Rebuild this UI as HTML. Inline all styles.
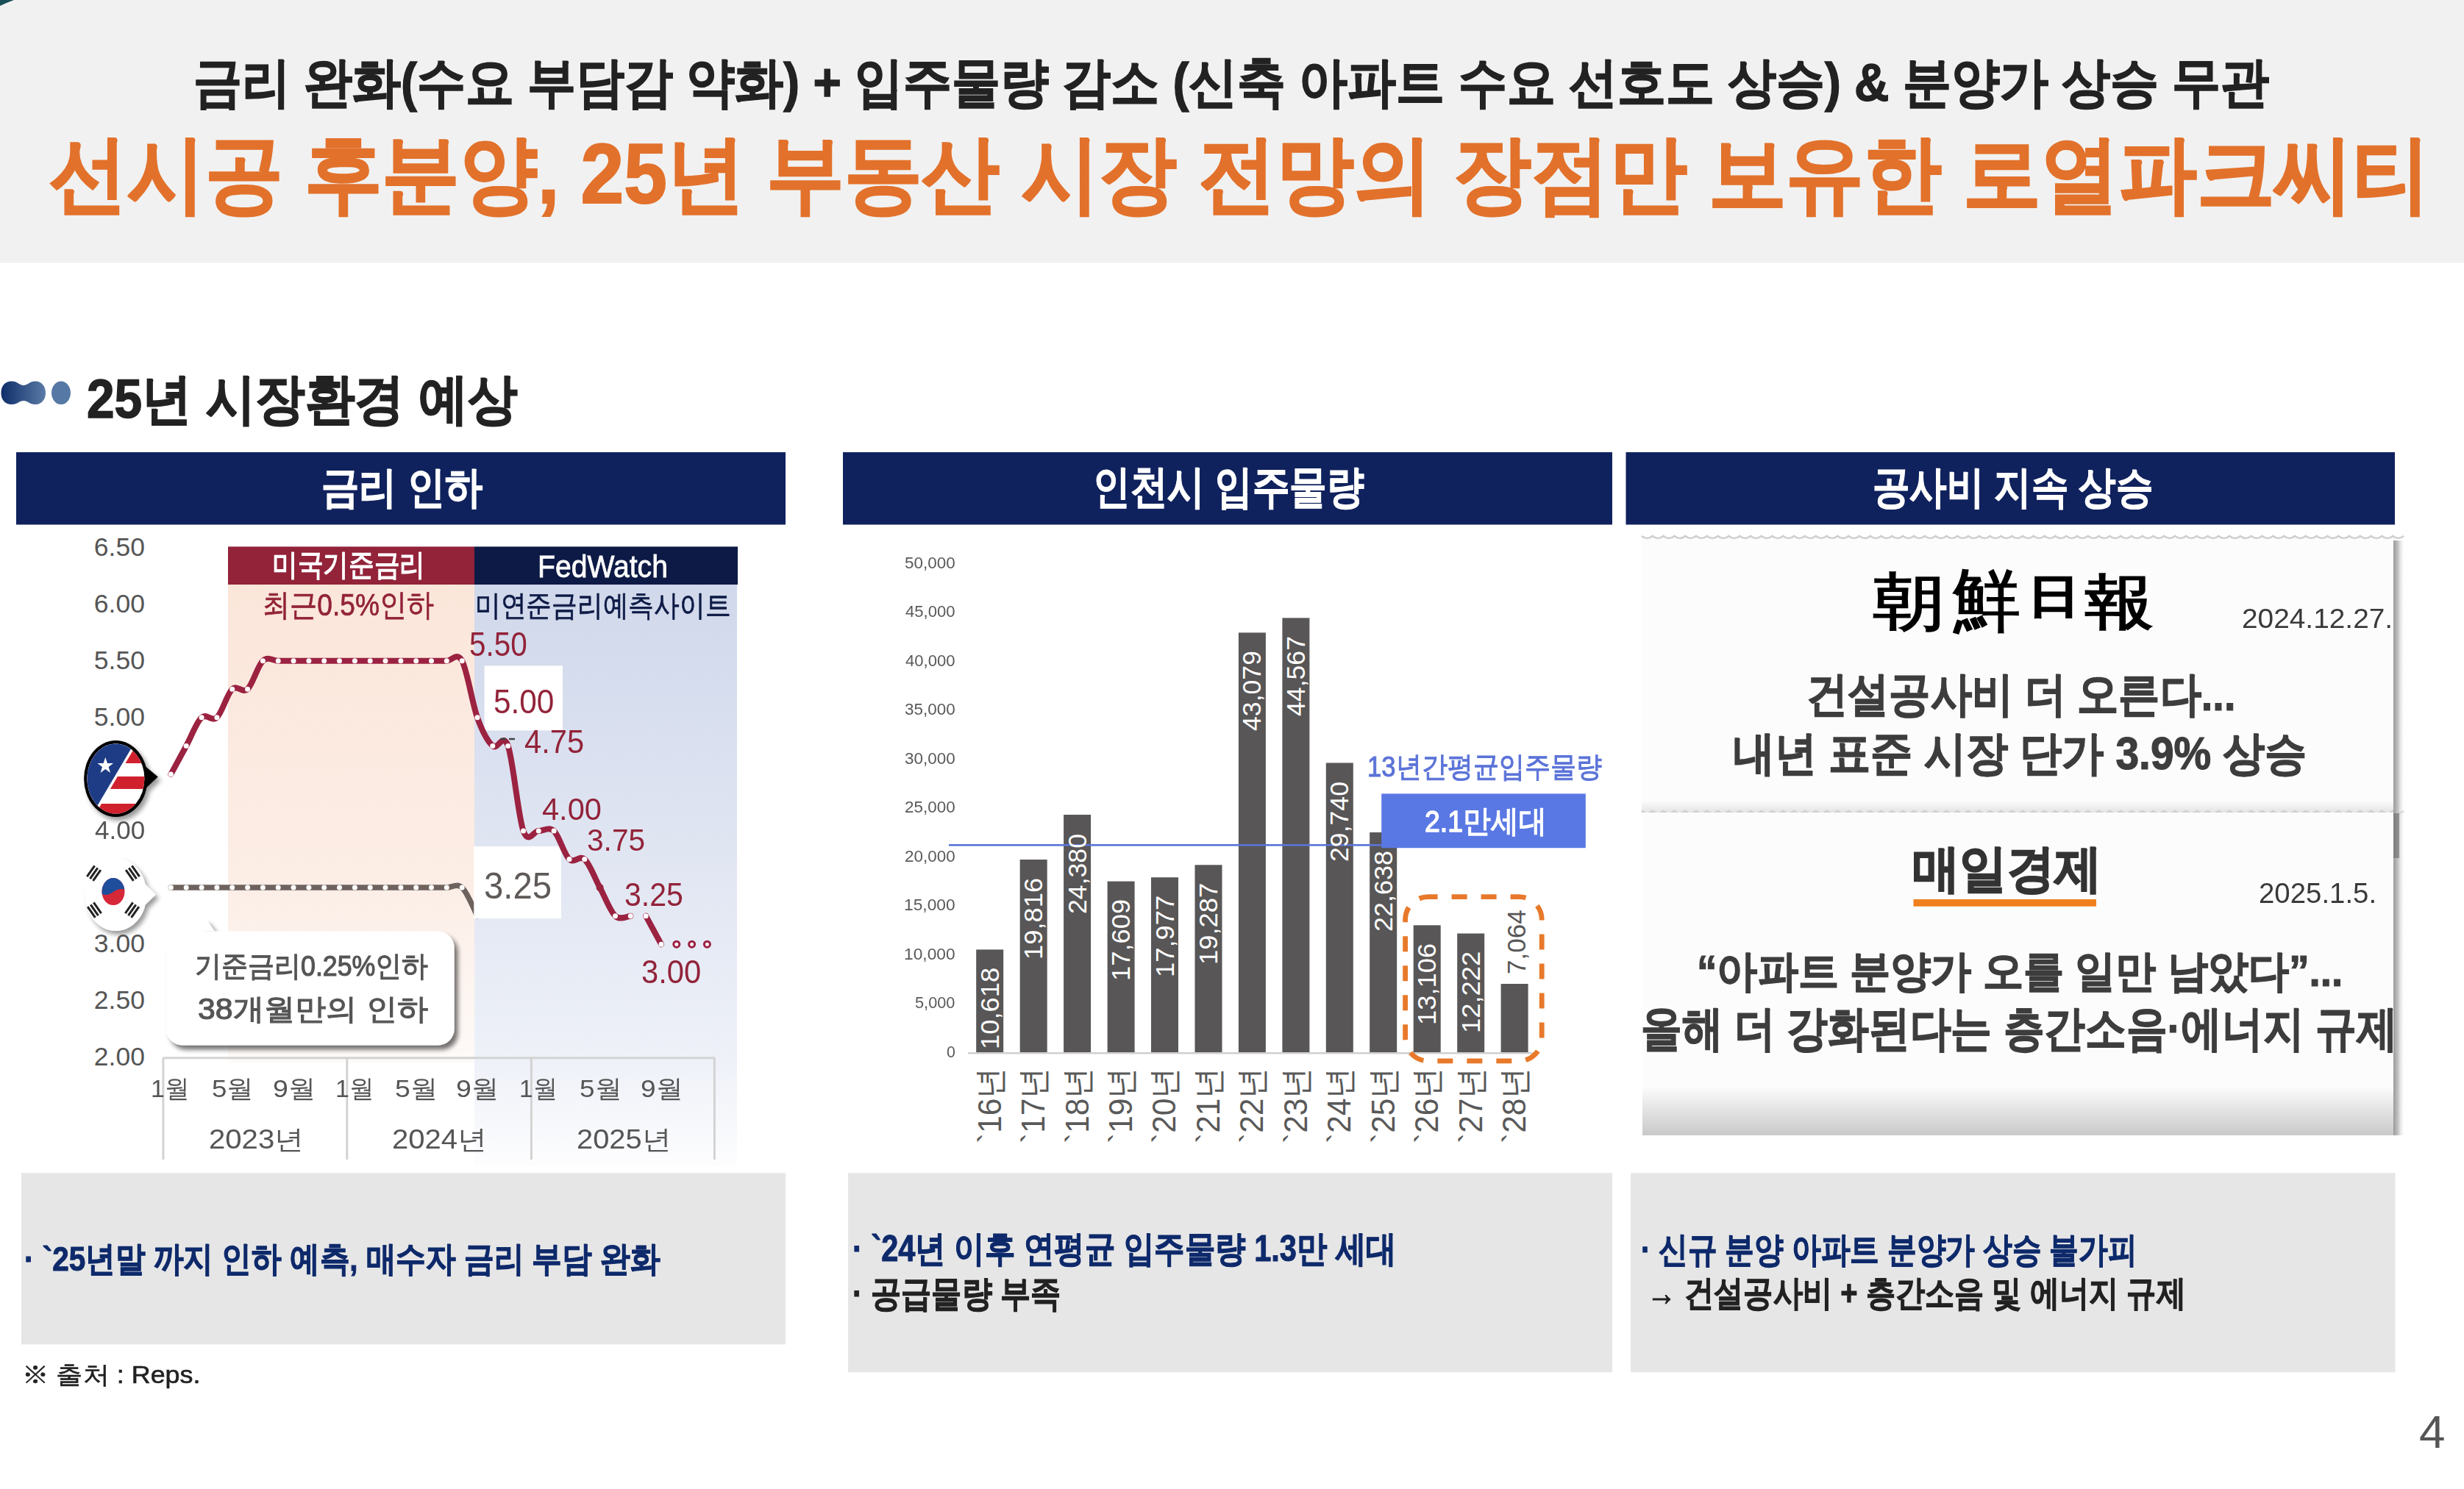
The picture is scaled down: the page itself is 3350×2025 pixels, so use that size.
<!DOCTYPE html>
<html><head><meta charset="utf-8"><title>25년 시장환경 예상</title>
<style>
html,body{margin:0;padding:0;background:#ffffff;}
body{width:3350px;height:2025px;position:relative;overflow:hidden;font-family:'Liberation Sans',sans-serif;}
.t{position:absolute;white-space:pre;line-height:1;transform-origin:0 0;font-family:'Liberation Sans',sans-serif;}
svg.bg{position:absolute;left:0;top:0;}
</style></head><body>
<svg class="bg" width="3350" height="2025" viewBox="0 0 3350 2025">
<rect x="0" y="0" width="3350" height="357.5" fill="#f1f1f1"/>
<path d="M0 0 L19 0 Q8 4 0 8 Z" fill="#1b4f58"/>
<defs><linearGradient id="gIcon" x1="0" x2="1" y1="0" y2="0"><stop offset="0" stop-color="#0f2d6a"/><stop offset="1" stop-color="#5a7ba6"/></linearGradient></defs>
<path d="M16 518.6 C6 518.6 1.5 526 1.5 534.3 C1.5 543 6 550 16 550 C24 550 26 545 32 545 C38 545 40 550 48 550 C57 550 62 543 62 534.3 C62 526 57 518.6 48 518.6 C40 518.6 38 524 32 524 C26 524 24 518.6 16 518.6 Z" fill="url(#gIcon)"/>
<ellipse cx="83" cy="534.3" rx="13" ry="15.7" fill="#5678a4"/>
<rect x="22" y="615" width="1046" height="98.5" fill="#10225d"/>
<rect x="1146" y="615" width="1046" height="98.5" fill="#10225d"/>
<rect x="2210.5" y="615" width="1045.5" height="98.5" fill="#10225d"/>
<rect x="29" y="1595.3" width="1039" height="233" fill="#e6e6e6"/>
<rect x="1153" y="1595.3" width="1039" height="271" fill="#e6e6e6"/>
<rect x="2217" y="1595.3" width="1039.5" height="271" fill="#e6e6e6"/>
<defs>
<linearGradient id="gPeach" x1="0" x2="0" y1="0" y2="1"><stop offset="0" stop-color="#fbe6da"/><stop offset="0.6" stop-color="#fcede5"/><stop offset="1" stop-color="#fefaf8"/></linearGradient>
<linearGradient id="gBlue" x1="0" x2="0" y1="0" y2="1"><stop offset="0" stop-color="#d0d8eb"/><stop offset="0.45" stop-color="#e0e5f2"/><stop offset="0.82" stop-color="#eef1f8"/><stop offset="1" stop-color="#fdfdfe"/></linearGradient>
<filter id="fSh" x="-20%" y="-20%" width="150%" height="150%"><feGaussianBlur in="SourceAlpha" stdDeviation="3"/><feOffset dx="5" dy="6"/><feComponentTransfer><feFuncA type="linear" slope="0.55"/></feComponentTransfer><feMerge><feMergeNode/><feMergeNode in="SourceGraphic"/></feMerge></filter>
<filter id="fSh2" x="-30%" y="-30%" width="160%" height="160%"><feGaussianBlur in="SourceAlpha" stdDeviation="3"/><feOffset dx="4" dy="5"/><feComponentTransfer><feFuncA type="linear" slope="0.4"/></feComponentTransfer><feMerge><feMergeNode/><feMergeNode in="SourceGraphic"/></feMerge></filter>
</defs>
<rect x="310" y="795" width="335" height="650" fill="url(#gPeach)"/>
<rect x="645" y="795" width="357" height="790" fill="url(#gBlue)"/>
<rect x="310" y="743.4" width="335" height="51.6" fill="#922339"/>
<rect x="645" y="743.4" width="358" height="51.6" fill="#0d1a45"/>
<g stroke="#d3d3d3" stroke-width="3" fill="none"><path d="M221.6 1438.7 H972"/><path d="M221.9 1438.7 V1577"/><path d="M471.8 1438.7 V1577"/><path d="M722.4 1438.7 V1577"/><path d="M971.4 1438.7 V1577"/></g>
<path d="M232.4 1207.1 C235.9 1207.1 246.3 1207.1 253.2 1207.1 C260.2 1207.1 267.1 1207.1 274.1 1207.1 C281.0 1207.1 287.9 1207.1 294.9 1207.1 C301.8 1207.1 308.8 1207.1 315.7 1207.1 C322.7 1207.1 329.6 1207.1 336.6 1207.1 C343.5 1207.1 350.4 1207.1 357.4 1207.1 C364.3 1207.1 371.3 1207.1 378.2 1207.1 C385.2 1207.1 392.1 1207.1 399.0 1207.1 C406.0 1207.1 412.9 1207.1 419.9 1207.1 C426.8 1207.1 433.8 1207.1 440.7 1207.1 C447.6 1207.1 454.6 1207.1 461.5 1207.1 C468.5 1207.1 475.4 1207.1 482.4 1207.1 C489.3 1207.1 496.2 1207.1 503.2 1207.1 C510.1 1207.1 517.1 1207.1 524.0 1207.1 C531.0 1207.1 537.9 1207.1 544.9 1207.1 C551.8 1207.1 558.7 1207.1 565.7 1207.1 C572.6 1207.1 579.6 1207.1 586.5 1207.1 C593.5 1207.1 600.4 1207.1 607.3 1207.1 C614.3 1207.1 621.2 1200.7 628.2 1207.1 C635.1 1213.5 645.5 1239.2 649.0 1245.7" fill="none" stroke="#6e625e" stroke-width="7.5" stroke-linejoin="round" stroke-linecap="round"/>
<circle cx="232.4" cy="1207.1" r="3.5" fill="#fff"/>
<circle cx="253.2" cy="1207.1" r="3.5" fill="#fff"/>
<circle cx="274.1" cy="1207.1" r="3.5" fill="#fff"/>
<circle cx="294.9" cy="1207.1" r="3.5" fill="#fff"/>
<circle cx="315.7" cy="1207.1" r="3.5" fill="#fff"/>
<circle cx="336.6" cy="1207.1" r="3.5" fill="#fff"/>
<circle cx="357.4" cy="1207.1" r="3.5" fill="#fff"/>
<circle cx="378.2" cy="1207.1" r="3.5" fill="#fff"/>
<circle cx="399.0" cy="1207.1" r="3.5" fill="#fff"/>
<circle cx="419.9" cy="1207.1" r="3.5" fill="#fff"/>
<circle cx="440.7" cy="1207.1" r="3.5" fill="#fff"/>
<circle cx="461.5" cy="1207.1" r="3.5" fill="#fff"/>
<circle cx="482.4" cy="1207.1" r="3.5" fill="#fff"/>
<circle cx="503.2" cy="1207.1" r="3.5" fill="#fff"/>
<circle cx="524.0" cy="1207.1" r="3.5" fill="#fff"/>
<circle cx="544.9" cy="1207.1" r="3.5" fill="#fff"/>
<circle cx="565.7" cy="1207.1" r="3.5" fill="#fff"/>
<circle cx="586.5" cy="1207.1" r="3.5" fill="#fff"/>
<circle cx="607.3" cy="1207.1" r="3.5" fill="#fff"/>
<circle cx="628.2" cy="1207.1" r="3.5" fill="#fff"/>
<rect x="658.6" y="905.4" width="106.4" height="88" fill="#ffffff"/>
<rect x="644.3" y="1151" width="118.7" height="98.3" fill="#ffffff"/>
<path d="M232.4 1052.9 C235.9 1046.5 246.3 1027.2 253.2 1014.4 C260.2 1001.5 267.1 982.2 274.1 975.8 C281.0 969.4 287.9 982.2 294.9 975.8 C301.8 969.4 308.8 943.7 315.7 937.2 C322.7 930.8 329.6 943.7 336.6 937.2 C343.5 930.8 350.4 905.1 357.4 898.7 C364.3 892.3 371.3 898.7 378.2 898.7 C385.2 898.7 392.1 898.7 399.0 898.7 C406.0 898.7 412.9 898.7 419.9 898.7 C426.8 898.7 433.8 898.7 440.7 898.7 C447.6 898.7 454.6 898.7 461.5 898.7 C468.5 898.7 475.4 898.7 482.4 898.7 C489.3 898.7 496.2 898.7 503.2 898.7 C510.1 898.7 517.1 898.7 524.0 898.7 C531.0 898.7 537.9 898.7 544.9 898.7 C551.8 898.7 558.7 898.7 565.7 898.7 C572.6 898.7 579.6 898.7 586.5 898.7 C593.5 898.7 600.4 898.7 607.3 898.7 C614.3 898.7 621.2 885.9 628.2 898.7 C635.1 911.6 642.1 956.5 649.0 975.8 C655.9 995.1 662.9 1007.9 669.8 1014.4 C676.8 1020.8 683.7 995.1 690.7 1014.4 C697.6 1033.6 704.5 1110.7 711.5 1130.0 C718.4 1149.3 725.4 1130.0 732.3 1130.0 C739.3 1130.0 746.2 1123.6 753.1 1130.0 C760.1 1136.4 767.0 1162.1 774.0 1168.5 C780.9 1175.0 787.9 1162.1 794.8 1168.5 C801.8 1175.0 808.7 1194.2 815.6 1207.1 C822.6 1219.9 829.5 1239.2 836.5 1245.7 C843.4 1252.1 853.8 1245.7 857.3 1245.7" fill="none" stroke="#9b2241" stroke-width="8" stroke-linejoin="round" stroke-linecap="round"/>
<polyline points="878.1,1245.7 899.0,1284.2" fill="none" stroke="#9b2241" stroke-width="8" stroke-linecap="round"/>
<circle cx="232.4" cy="1052.9" r="3.5" fill="#fff"/>
<circle cx="253.2" cy="1014.4" r="3.5" fill="#fff"/>
<circle cx="274.1" cy="975.8" r="3.5" fill="#fff"/>
<circle cx="294.9" cy="975.8" r="3.5" fill="#fff"/>
<circle cx="315.7" cy="937.2" r="3.5" fill="#fff"/>
<circle cx="336.6" cy="937.2" r="3.5" fill="#fff"/>
<circle cx="357.4" cy="898.7" r="3.5" fill="#fff"/>
<circle cx="378.2" cy="898.7" r="3.5" fill="#fff"/>
<circle cx="399.0" cy="898.7" r="3.5" fill="#fff"/>
<circle cx="419.9" cy="898.7" r="3.5" fill="#fff"/>
<circle cx="440.7" cy="898.7" r="3.5" fill="#fff"/>
<circle cx="461.5" cy="898.7" r="3.5" fill="#fff"/>
<circle cx="482.4" cy="898.7" r="3.5" fill="#fff"/>
<circle cx="503.2" cy="898.7" r="3.5" fill="#fff"/>
<circle cx="524.0" cy="898.7" r="3.5" fill="#fff"/>
<circle cx="544.9" cy="898.7" r="3.5" fill="#fff"/>
<circle cx="565.7" cy="898.7" r="3.5" fill="#fff"/>
<circle cx="586.5" cy="898.7" r="3.5" fill="#fff"/>
<circle cx="607.3" cy="898.7" r="3.5" fill="#fff"/>
<circle cx="628.2" cy="898.7" r="3.5" fill="#fff"/>
<circle cx="649.0" cy="975.8" r="3.5" fill="#fff"/>
<circle cx="669.8" cy="1014.4" r="3.5" fill="#fff"/>
<circle cx="690.7" cy="1014.4" r="3.5" fill="#fff"/>
<circle cx="711.5" cy="1130.0" r="3.5" fill="#fff"/>
<circle cx="732.3" cy="1130.0" r="3.5" fill="#fff"/>
<circle cx="753.1" cy="1130.0" r="3.5" fill="#fff"/>
<circle cx="774.0" cy="1168.5" r="3.5" fill="#fff"/>
<circle cx="794.8" cy="1168.5" r="3.5" fill="#fff"/>
<circle cx="815.6" cy="1207.1" r="3.5" fill="#fff"/>
<circle cx="836.5" cy="1245.7" r="3.5" fill="#fff"/>
<circle cx="857.3" cy="1245.7" r="3.5" fill="#fff"/>
<circle cx="815.6" cy="1207.1" r="5" fill="#9b2241"/>
<circle cx="878.1" cy="1245.7" r="3.5" fill="#fff"/>
<circle cx="899.0" cy="1284.2" r="3.5" fill="#fff"/>
<circle cx="919.8" cy="1284.2" r="4" fill="#fff" stroke="#9b2241" stroke-width="3"/>
<circle cx="940.6" cy="1284.2" r="4" fill="#fff" stroke="#9b2241" stroke-width="3"/>
<circle cx="961.4" cy="1284.2" r="4" fill="#fff" stroke="#9b2241" stroke-width="3"/>
<path d="M680 1005 h8 M692 1005 h8" stroke="#444" stroke-width="2.5"/>
<g filter="url(#fSh)"><path d="M270 1266.6 L279 1249 L292 1266.6 Z" fill="#fff"/><rect x="226" y="1266.6" width="391.6" height="154.8" rx="22" fill="#ffffff"/></g>
<g filter="url(#fSh2)">
<path d="M195 1040 L214.8 1056.5 L195 1075 Z" fill="#000"/>
<ellipse cx="157.4" cy="1059" rx="43.3" ry="52" fill="#000"/>
</g>
<clipPath id="cpUS"><ellipse cx="157.4" cy="1059" rx="39" ry="47.5"/></clipPath>
<g clip-path="url(#cpUS)">
<rect x="110" y="1005" width="100" height="110" fill="#fff"/>
<rect x="110" y="1021" width="100" height="17" fill="#d0202e"/>
<rect x="110" y="1056" width="100" height="17" fill="#d0202e"/>
<rect x="110" y="1093" width="100" height="20" fill="#d0202e"/>
<path d="M110 1005 L190 1005 L128 1110 L110 1110 Z" fill="#fff"/>
<path d="M110 1005 L186 1005 L124 1110 L110 1110 Z" fill="#1e3c86"/>
</g>
<path d="M143.3 1030 L146 1038 L154 1038 L147.6 1043 L150 1051 L143.3 1046 L136.6 1051 L139 1043 L132.6 1038 L140.6 1038 Z" fill="#fff"/>
<g filter="url(#fSh2)">
<path d="M195 1200 L211.8 1216.6 L195 1233 Z" fill="#fff"/>
<ellipse cx="157.4" cy="1216.5" rx="42" ry="49.5" fill="#fff"/>
</g>
<clipPath id="cpKR"><ellipse cx="154" cy="1212.6" rx="15.5" ry="18.5"/></clipPath>
<g clip-path="url(#cpKR)"><rect x="135" y="1190" width="40" height="50" fill="#d62839"/>
<path d="M135 1190 H175 V1213 Q165 1205 154 1213 Q143 1221 135 1213 Z" fill="#1f4e9c"/></g>
<g fill="#222">
<g transform="translate(128,1188) rotate(-55)"><rect x="-9" y="-7" width="18" height="3"/><rect x="-9" y="-2" width="18" height="3"/><rect x="-9" y="3" width="18" height="3"/></g>
<g transform="translate(180,1188) rotate(55)"><rect x="-9" y="-7" width="18" height="3"/><rect x="-9" y="-2" width="18" height="3"/><rect x="-9" y="3" width="18" height="3"/></g>
<g transform="translate(128,1238) rotate(55)"><rect x="-9" y="-7" width="18" height="3"/><rect x="-9" y="-2" width="18" height="3"/><rect x="-9" y="3" width="18" height="3"/></g>
<g transform="translate(180,1238) rotate(-55)"><rect x="-9" y="-7" width="18" height="3"/><rect x="-9" y="-2" width="18" height="3"/><rect x="-9" y="3" width="18" height="3"/></g>
</g>
<rect x="1316" y="1431" width="775" height="2.5" fill="#d0d0d0"/>
<rect x="1327.2" y="1291.4" width="37" height="139.6" fill="#585656"/>
<rect x="1386.7" y="1169" width="37" height="262.0" fill="#585656"/>
<rect x="1446.1" y="1108" width="37" height="323.0" fill="#585656"/>
<rect x="1505.6" y="1198.6" width="37" height="232.4" fill="#585656"/>
<rect x="1565.0" y="1193.2" width="37" height="237.8" fill="#585656"/>
<rect x="1624.5" y="1176.3" width="37" height="254.7" fill="#585656"/>
<rect x="1683.9" y="860.4" width="37" height="570.6" fill="#585656"/>
<rect x="1743.4" y="840.4" width="37" height="590.6" fill="#585656"/>
<rect x="1802.8" y="1037.5" width="37" height="393.5" fill="#585656"/>
<rect x="1862.2" y="1132" width="37" height="299.0" fill="#585656"/>
<rect x="1921.7" y="1258.3" width="37" height="172.7" fill="#585656"/>
<rect x="1981.2" y="1269.5" width="37" height="161.5" fill="#585656"/>
<rect x="2040.6" y="1338" width="37" height="93.0" fill="#585656"/>
<rect x="1290" y="1148" width="590" height="2.6" fill="#5b73d6"/>
<rect x="1878.2" y="1079.4" width="277.6" height="73.8" fill="#5a78e4"/>
<rect x="1910.6" y="1219.6" width="185.6" height="223.3" rx="31" fill="none" stroke="#e8792b" stroke-width="6.8" stroke-dasharray="21 19" stroke-dashoffset="8"/>
<defs>
<linearGradient id="gClipB" x1="0" x2="0" y1="0" y2="1"><stop offset="0" stop-color="#fcfcfc"/><stop offset="1" stop-color="#c9c9c9"/></linearGradient>
<linearGradient id="gClipR" x1="0" x2="1" y1="0" y2="0"><stop offset="0" stop-color="#9a9a9a"/><stop offset="0.4" stop-color="#c4c4c4"/><stop offset="1" stop-color="#ffffff" stop-opacity="0"/></linearGradient>
<pattern id="pWave" x="2232" y="726" width="15" height="10" patternUnits="userSpaceOnUse"><path d="M0 3 Q7.5 9 15 3" fill="none" stroke="#c8c8c8" stroke-width="2.5"/></pattern>
</defs>
<rect x="2232" y="731" width="1022" height="374" fill="#fcfcfc"/>
<rect x="2232" y="1089" width="1022" height="15" fill="url(#gClipB)" opacity="0.45"/>
<path d="M2232 729 Q2239.4 735 2246.8 729 Q2254.2 735 2261.6 729 Q2269.0 735 2276.4 729 Q2283.8 735 2291.2 729 Q2298.6 735 2306.0 729 Q2313.4 735 2320.8 729 Q2328.2 735 2335.6 729 Q2343.0 735 2350.4 729 Q2357.8 735 2365.2 729 Q2372.6 735 2380.0 729 Q2387.4 735 2394.8 729 Q2402.2 735 2409.6 729 Q2417.0 735 2424.4 729 Q2431.8 735 2439.2 729 Q2446.6 735 2454.0 729 Q2461.4 735 2468.8 729 Q2476.2 735 2483.6 729 Q2491.0 735 2498.4 729 Q2505.8 735 2513.2 729 Q2520.6 735 2528.0 729 Q2535.4 735 2542.8 729 Q2550.2 735 2557.6 729 Q2565.0 735 2572.4 729 Q2579.8 735 2587.2 729 Q2594.6 735 2602.0 729 Q2609.4 735 2616.8 729 Q2624.2 735 2631.6 729 Q2639.0 735 2646.4 729 Q2653.8 735 2661.2 729 Q2668.6 735 2676.0 729 Q2683.4 735 2690.8 729 Q2698.2 735 2705.6 729 Q2713.0 735 2720.4 729 Q2727.8 735 2735.2 729 Q2742.6 735 2750.0 729 Q2757.4 735 2764.8 729 Q2772.2 735 2779.6 729 Q2787.0 735 2794.4 729 Q2801.8 735 2809.2 729 Q2816.6 735 2824.0 729 Q2831.4 735 2838.8 729 Q2846.2 735 2853.6 729 Q2861.0 735 2868.4 729 Q2875.8 735 2883.2 729 Q2890.6 735 2898.0 729 Q2905.4 735 2912.8 729 Q2920.2 735 2927.6 729 Q2935.0 735 2942.4 729 Q2949.8 735 2957.2 729 Q2964.6 735 2972.0 729 Q2979.4 735 2986.8 729 Q2994.2 735 3001.6 729 Q3009.0 735 3016.4 729 Q3023.8 735 3031.2 729 Q3038.6 735 3046.0 729 Q3053.4 735 3060.8 729 Q3068.2 735 3075.6 729 Q3083.0 735 3090.4 729 Q3097.8 735 3105.2 729 Q3112.6 735 3120.0 729 Q3127.4 735 3134.8 729 Q3142.2 735 3149.6 729 Q3157.0 735 3164.4 729 Q3171.8 735 3179.2 729 Q3186.6 735 3194.0 729 Q3201.4 735 3208.8 729 Q3216.2 735 3223.6 729 Q3231.0 735 3238.4 729 Q3245.8 735 3253.2 729 Q3260.6 735 3268.0 729" fill="none" stroke="#cfcfcf" stroke-width="2.6"/>
<path d="M2232 1103 Q2239.4 1109 2246.8 1103 Q2254.2 1109 2261.6 1103 Q2269.0 1109 2276.4 1103 Q2283.8 1109 2291.2 1103 Q2298.6 1109 2306.0 1103 Q2313.4 1109 2320.8 1103 Q2328.2 1109 2335.6 1103 Q2343.0 1109 2350.4 1103 Q2357.8 1109 2365.2 1103 Q2372.6 1109 2380.0 1103 Q2387.4 1109 2394.8 1103 Q2402.2 1109 2409.6 1103 Q2417.0 1109 2424.4 1103 Q2431.8 1109 2439.2 1103 Q2446.6 1109 2454.0 1103 Q2461.4 1109 2468.8 1103 Q2476.2 1109 2483.6 1103 Q2491.0 1109 2498.4 1103 Q2505.8 1109 2513.2 1103 Q2520.6 1109 2528.0 1103 Q2535.4 1109 2542.8 1103 Q2550.2 1109 2557.6 1103 Q2565.0 1109 2572.4 1103 Q2579.8 1109 2587.2 1103 Q2594.6 1109 2602.0 1103 Q2609.4 1109 2616.8 1103 Q2624.2 1109 2631.6 1103 Q2639.0 1109 2646.4 1103 Q2653.8 1109 2661.2 1103 Q2668.6 1109 2676.0 1103 Q2683.4 1109 2690.8 1103 Q2698.2 1109 2705.6 1103 Q2713.0 1109 2720.4 1103 Q2727.8 1109 2735.2 1103 Q2742.6 1109 2750.0 1103 Q2757.4 1109 2764.8 1103 Q2772.2 1109 2779.6 1103 Q2787.0 1109 2794.4 1103 Q2801.8 1109 2809.2 1103 Q2816.6 1109 2824.0 1103 Q2831.4 1109 2838.8 1103 Q2846.2 1109 2853.6 1103 Q2861.0 1109 2868.4 1103 Q2875.8 1109 2883.2 1103 Q2890.6 1109 2898.0 1103 Q2905.4 1109 2912.8 1103 Q2920.2 1109 2927.6 1103 Q2935.0 1109 2942.4 1103 Q2949.8 1109 2957.2 1103 Q2964.6 1109 2972.0 1103 Q2979.4 1109 2986.8 1103 Q2994.2 1109 3001.6 1103 Q3009.0 1109 3016.4 1103 Q3023.8 1109 3031.2 1103 Q3038.6 1109 3046.0 1103 Q3053.4 1109 3060.8 1103 Q3068.2 1109 3075.6 1103 Q3083.0 1109 3090.4 1103 Q3097.8 1109 3105.2 1103 Q3112.6 1109 3120.0 1103 Q3127.4 1109 3134.8 1103 Q3142.2 1109 3149.6 1103 Q3157.0 1109 3164.4 1103 Q3171.8 1109 3179.2 1103 Q3186.6 1109 3194.0 1103 Q3201.4 1109 3208.8 1103 Q3216.2 1109 3223.6 1103 Q3231.0 1109 3238.4 1103 Q3245.8 1109 3253.2 1103 Q3260.6 1109 3268.0 1103" fill="none" stroke="#cfcfcf" stroke-width="2.6"/>
<rect x="2233" y="1105" width="1021" height="439" fill="#fcfcfc"/>
<rect x="2233" y="1477" width="1021" height="67" fill="url(#gClipB)"/>
<rect x="3254" y="735" width="16" height="809" fill="url(#gClipR)"/>
<rect x="3254" y="1106" width="8" height="61" fill="#6a6a6a" opacity="0.6"/>
<rect x="2601.5" y="1223" width="248.5" height="9.7" fill="#f07f1e"/>
</svg>
<div class="t" style="left:263.4px;top:76.3px;font-size:72.76px;font-weight:700;color:#222222;transform:scaleX(0.9036);font-family:'Liberation Sans', sans-serif;-webkit-text-stroke:1.4px #222222;">금리 완화(수요 부담감 약화) + 입주물량 감소 (신축 아파트 수요 선호도 상승) &amp; 분양가 상승 무관</div>
<div class="t" style="left:67.1px;top:179.0px;font-size:114.59px;font-weight:700;color:#e2712b;transform:scaleX(0.9199);font-family:'Liberation Sans', sans-serif;-webkit-text-stroke:2.2px #e2712b;">선시공 후분양, 25년 부동산 시장 전망의 장점만 보유한 로열파크씨티</div>
<div class="t" style="left:118.0px;top:506.0px;font-size:74.05px;font-weight:700;color:#222222;transform:scaleX(0.9131);font-family:'Liberation Sans', sans-serif;-webkit-text-stroke:1.5px #222222;">25년 시장환경 예상</div>
<div class="t" style="left:437.4px;top:633.5px;font-size:59.07px;font-weight:700;color:#ffffff;transform:scaleX(0.8675);font-family:'Liberation Sans', sans-serif;-webkit-text-stroke:1.0px #ffffff;">금리 인하</div>
<div class="t" style="left:1486.3px;top:631.6px;font-size:60.87px;font-weight:700;color:#ffffff;transform:scaleX(0.8303);font-family:'Liberation Sans', sans-serif;-webkit-text-stroke:1.0px #ffffff;">인천시 입주물량</div>
<div class="t" style="left:2545.5px;top:633.0px;font-size:59.59px;font-weight:700;color:#ffffff;transform:scaleX(0.8412);font-family:'Liberation Sans', sans-serif;-webkit-text-stroke:1.0px #ffffff;">공사비 지속 상승</div>
<div class="t" style="left:370.1px;top:748.0px;font-size:40.78px;font-weight:400;color:#ffffff;transform:scaleX(0.8462);font-family:'Liberation Sans', sans-serif;-webkit-text-stroke:1.5px #ffffff;">미국기준금리</div>
<div class="t" style="left:730.9px;top:748.8px;font-size:43.42px;font-weight:400;color:#ffffff;transform:scaleX(0.9016);font-family:'Liberation Sans', sans-serif;-webkit-text-stroke:0.8px #ffffff;">FedWatch</div>
<div class="t" style="left:357.3px;top:802.4px;font-size:42.01px;font-weight:400;color:#922339;transform:scaleX(0.8846);font-family:'Liberation Sans', sans-serif;-webkit-text-stroke:0.7px #922339;">최근0.5%인하</div>
<div class="t" style="left:646.4px;top:804.0px;font-size:39.59px;font-weight:400;color:#0d1a45;transform:scaleX(0.8684);font-family:'Liberation Sans', sans-serif;-webkit-text-stroke:0.7px #0d1a45;">미연준금리예측사이트</div>
<div class="t" style="left:638.2px;top:854.0px;font-size:45.81px;font-weight:400;color:#922339;transform:scaleX(0.8837);font-family:'Liberation Sans', sans-serif;">5.50</div>
<div class="t" style="left:671.2px;top:930.6px;font-size:46.22px;font-weight:400;color:#922339;transform:scaleX(0.9163);font-family:'Liberation Sans', sans-serif;">5.00</div>
<div class="t" style="left:713.1px;top:986.8px;font-size:44.35px;font-weight:400;color:#922339;transform:scaleX(0.9405);font-family:'Liberation Sans', sans-serif;">4.75</div>
<div class="t" style="left:737.4px;top:1080.0px;font-size:42.3px;font-weight:400;color:#922339;transform:scaleX(0.9825);font-family:'Liberation Sans', sans-serif;">4.00</div>
<div class="t" style="left:798.1px;top:1120.8px;font-size:43.15px;font-weight:400;color:#922339;transform:scaleX(0.9425);font-family:'Liberation Sans', sans-serif;">3.75</div>
<div class="t" style="left:848.5px;top:1195.0px;font-size:44.35px;font-weight:400;color:#922339;transform:scaleX(0.9265);font-family:'Liberation Sans', sans-serif;">3.25</div>
<div class="t" style="left:872.1px;top:1300.7px;font-size:43.63px;font-weight:400;color:#922339;transform:scaleX(0.9568);font-family:'Liberation Sans', sans-serif;">3.00</div>
<div class="t" style="left:657.7px;top:1180.0px;font-size:49.34px;font-weight:400;color:#5f5a58;transform:scaleX(0.9587);font-family:'Liberation Sans', sans-serif;">3.25</div>
<div class="t" style="left:265.2px;top:1294.6px;font-size:38.75px;font-weight:400;color:#555555;transform:scaleX(0.9231);font-family:'Liberation Sans', sans-serif;-webkit-text-stroke:1.2px #555555;">기준금리0.25%인하</div>
<div class="t" style="left:268.9px;top:1351.8px;font-size:40.45px;font-weight:400;color:#555555;transform:scaleX(1.0576);font-family:'Liberation Sans', sans-serif;-webkit-text-stroke:1.2px #555555;">38개월만의 인하</div>
<div class="t" style="left:283.6px;top:1532.4px;font-size:36.11px;font-weight:400;color:#555555;transform:scaleX(1.1109);font-family:'Liberation Sans', sans-serif;">2023년</div>
<div class="t" style="left:533.2px;top:1532.4px;font-size:36.11px;font-weight:400;color:#555555;transform:scaleX(1.11);font-family:'Liberation Sans', sans-serif;">2024년</div>
<div class="t" style="left:783.5px;top:1532.4px;font-size:36.11px;font-weight:400;color:#555555;transform:scaleX(1.1036);font-family:'Liberation Sans', sans-serif;">2025년</div>
<div class="t" style="left:1859.2px;top:1024.0px;font-size:38.51px;font-weight:400;color:#5b73d8;transform:scaleX(0.8992);font-family:'Liberation Sans', sans-serif;-webkit-text-stroke:1.0px #5b73d8;">13년간평균입주물량</div>
<div class="t" style="left:1936.6px;top:1095.8px;font-size:41.55px;font-weight:400;color:#ffffff;transform:scaleX(0.9017);font-family:'Liberation Sans', sans-serif;-webkit-text-stroke:1.5px #ffffff;">2.1만세대</div>
<div class="t" style="left:2547.0px;top:777.0px;font-size:83.69px;font-weight:400;color:#000000;transform:scaleX(1.1538);font-family:'Liberation Serif', serif;-webkit-text-stroke:2px #000000;">朝</div>
<div class="t" style="left:2655.0px;top:770.4px;font-size:95.06px;font-weight:400;color:#000000;transform:scaleX(0.9677);font-family:'Liberation Serif', serif;-webkit-text-stroke:2px #000000;">鮮</div>
<div class="t" style="left:2756.7px;top:780.5px;font-size:61.34px;font-weight:400;color:#000000;transform:scaleX(1.1591);font-family:'Liberation Serif', serif;-webkit-text-stroke:3.5px #000000;">日</div>
<div class="t" style="left:2833.5px;top:779.0px;font-size:82.29px;font-weight:400;color:#000000;transform:scaleX(1.1562);font-family:'Liberation Serif', serif;-webkit-text-stroke:2px #000000;">報</div>
<div class="t" style="left:3048.2px;top:822.6px;font-size:37.34px;font-weight:400;color:#3a3a3a;transform:scaleX(1.0401);font-family:'Liberation Sans', sans-serif;">2024.12.27.</div>
<div class="t" style="left:2456.0px;top:912.7px;font-size:63.73px;font-weight:700;color:#3d3d3d;transform:scaleX(0.878);font-family:'Liberation Sans', sans-serif;-webkit-text-stroke:1.2px #3d3d3d;">건설공사비 더 오른다...</div>
<div class="t" style="left:2356.3px;top:993.0px;font-size:62.78px;font-weight:700;color:#3d3d3d;transform:scaleX(0.9071);font-family:'Liberation Sans', sans-serif;-webkit-text-stroke:1.2px #3d3d3d;">내년 표준 시장 단가 3.9% 상승</div>
<div class="t" style="left:2599.8px;top:1147.8px;font-size:68.54px;font-weight:700;color:#333333;transform:scaleX(0.9335);font-family:'Liberation Sans', sans-serif;-webkit-text-stroke:1.8px #333333;">매일경제</div>
<div class="t" style="left:3070.9px;top:1195.0px;font-size:39.6px;font-weight:400;color:#3a3a3a;transform:scaleX(0.9698);font-family:'Liberation Sans', sans-serif;">2025.1.5.</div>
<div class="t" style="left:2307.1px;top:1292.0px;font-size:58.57px;font-weight:700;color:#3d3d3d;transform:scaleX(0.9348);font-family:'Liberation Sans', sans-serif;-webkit-text-stroke:1.2px #3d3d3d;">“아파트 분양가 오를 일만 남았다”...</div>
<div class="t" style="left:2231.4px;top:1365.5px;font-size:65.44px;font-weight:700;color:#3d3d3d;transform:scaleX(0.8573);font-family:'Liberation Sans', sans-serif;-webkit-text-stroke:1.2px #3d3d3d;">올해 더 강화된다는 층간소음·에너지 규제</div>
<div class="t" style="left:32.7px;top:1689.0px;font-size:46.83px;font-weight:700;color:#0e2a6b;transform:scaleX(0.8648);font-family:'Liberation Sans', sans-serif;-webkit-text-stroke:1.0px #0e2a6b;">· `25년말 까지 인하 예측, 매수자 금리 부담 완화</div>
<div class="t" style="left:1158.5px;top:1672.6px;font-size:49.17px;font-weight:700;color:#0e2a6b;transform:scaleX(0.8458);font-family:'Liberation Sans', sans-serif;-webkit-text-stroke:1.0px #0e2a6b;">· `24년 이후 연평균 입주물량 1.3만 세대</div>
<div class="t" style="left:1158.5px;top:1735.0px;font-size:49.07px;font-weight:700;color:#222222;transform:scaleX(0.8396);font-family:'Liberation Sans', sans-serif;-webkit-text-stroke:1.0px #222222;">· 공급물량 부족</div>
<div class="t" style="left:2230.5px;top:1676.0px;font-size:47.87px;font-weight:700;color:#0e2a6b;transform:scaleX(0.8265);font-family:'Liberation Sans', sans-serif;-webkit-text-stroke:1.0px #0e2a6b;">· 신규 분양 아파트 분양가 상승 불가피</div>
<div class="t" style="left:2238.5px;top:1735.0px;font-size:47.79px;font-weight:700;color:#222222;transform:scaleX(0.8372);font-family:'Liberation Sans', sans-serif;-webkit-text-stroke:1.0px #222222;">→ 건설공사비 + 층간소음 및 에너지 규제</div>
<div class="t" style="left:30.2px;top:1854.4px;font-size:32.61px;font-weight:400;color:#222222;transform:scaleX(1.1);font-family:'Liberation Sans', sans-serif;-webkit-text-stroke:0.6px #222222;">※ 출처 : Reps.</div>
<div class="t" style="left:3288.5px;top:1916.0px;font-size:62.89px;font-weight:400;color:#555555;transform:scaleX(1.0156);font-family:'Liberation Sans', sans-serif;">4</div>
<div class="t" style="left:127.8px;top:727.2px;font-size:35.52px;font-weight:400;color:#555555;transform:scaleX(1.0);font-family:'Liberation Sans', sans-serif;">6.50</div>
<div class="t" style="left:127.8px;top:804.2px;font-size:35.52px;font-weight:400;color:#555555;transform:scaleX(1.0);font-family:'Liberation Sans', sans-serif;">6.00</div>
<div class="t" style="left:127.8px;top:881.2px;font-size:35.52px;font-weight:400;color:#555555;transform:scaleX(1.0);font-family:'Liberation Sans', sans-serif;">5.50</div>
<div class="t" style="left:127.8px;top:958.2px;font-size:35.52px;font-weight:400;color:#555555;transform:scaleX(1.0);font-family:'Liberation Sans', sans-serif;">5.00</div>
<div class="t" style="left:128.8px;top:1112.2px;font-size:35.52px;font-weight:400;color:#555555;transform:scaleX(0.9851);font-family:'Liberation Sans', sans-serif;">4.00</div>
<div class="t" style="left:127.8px;top:1266.2px;font-size:35.52px;font-weight:400;color:#555555;transform:scaleX(1.0);font-family:'Liberation Sans', sans-serif;">3.00</div>
<div class="t" style="left:127.8px;top:1343.2px;font-size:35.52px;font-weight:400;color:#555555;transform:scaleX(1.0);font-family:'Liberation Sans', sans-serif;">2.50</div>
<div class="t" style="left:127.8px;top:1420.2px;font-size:35.52px;font-weight:400;color:#555555;transform:scaleX(1.0);font-family:'Liberation Sans', sans-serif;">2.00</div>
<div class="t" style="left:205.3px;top:1463.3px;font-size:34.14px;font-weight:400;color:#555555;transform:scaleX(0.9913);font-family:'Liberation Sans', sans-serif;">1월</div>
<div class="t" style="left:287.6px;top:1463.3px;font-size:34.14px;font-weight:400;color:#555555;transform:scaleX(1.0766);font-family:'Liberation Sans', sans-serif;">5월</div>
<div class="t" style="left:370.8px;top:1463.3px;font-size:34.14px;font-weight:400;color:#555555;transform:scaleX(1.0979);font-family:'Liberation Sans', sans-serif;">9월</div>
<div class="t" style="left:455.9px;top:1463.3px;font-size:34.14px;font-weight:400;color:#555555;transform:scaleX(0.9913);font-family:'Liberation Sans', sans-serif;">1월</div>
<div class="t" style="left:537.2px;top:1463.3px;font-size:34.14px;font-weight:400;color:#555555;transform:scaleX(1.0979);font-family:'Liberation Sans', sans-serif;">5월</div>
<div class="t" style="left:620.4px;top:1463.3px;font-size:34.14px;font-weight:400;color:#555555;transform:scaleX(1.0979);font-family:'Liberation Sans', sans-serif;">9월</div>
<div class="t" style="left:706.2px;top:1463.3px;font-size:34.14px;font-weight:400;color:#555555;transform:scaleX(0.9761);font-family:'Liberation Sans', sans-serif;">1월</div>
<div class="t" style="left:787.5px;top:1463.3px;font-size:34.14px;font-weight:400;color:#555555;transform:scaleX(1.083);font-family:'Liberation Sans', sans-serif;">5월</div>
<div class="t" style="left:870.7px;top:1463.3px;font-size:34.14px;font-weight:400;color:#555555;transform:scaleX(1.083);font-family:'Liberation Sans', sans-serif;">9월</div>
<div class="t" style="left:1230.4px;top:755.0px;font-size:22.59px;font-weight:400;color:#595959;transform:scaleX(0.994);font-family:'Liberation Sans', sans-serif;">50,000</div>
<div class="t" style="left:1231.4px;top:821.4px;font-size:22.59px;font-weight:400;color:#595959;transform:scaleX(0.9794);font-family:'Liberation Sans', sans-serif;">45,000</div>
<div class="t" style="left:1231.4px;top:887.9px;font-size:22.59px;font-weight:400;color:#595959;transform:scaleX(0.9794);font-family:'Liberation Sans', sans-serif;">40,000</div>
<div class="t" style="left:1230.4px;top:954.4px;font-size:22.59px;font-weight:400;color:#595959;transform:scaleX(0.994);font-family:'Liberation Sans', sans-serif;">35,000</div>
<div class="t" style="left:1230.4px;top:1020.8px;font-size:22.59px;font-weight:400;color:#595959;transform:scaleX(0.994);font-family:'Liberation Sans', sans-serif;">30,000</div>
<div class="t" style="left:1230.4px;top:1087.2px;font-size:22.59px;font-weight:400;color:#595959;transform:scaleX(0.994);font-family:'Liberation Sans', sans-serif;">25,000</div>
<div class="t" style="left:1230.4px;top:1153.7px;font-size:22.59px;font-weight:400;color:#595959;transform:scaleX(0.994);font-family:'Liberation Sans', sans-serif;">20,000</div>
<div class="t" style="left:1229.4px;top:1220.2px;font-size:22.59px;font-weight:400;color:#595959;transform:scaleX(1.0091);font-family:'Liberation Sans', sans-serif;">15,000</div>
<div class="t" style="left:1229.4px;top:1286.6px;font-size:22.59px;font-weight:400;color:#595959;transform:scaleX(1.0091);font-family:'Liberation Sans', sans-serif;">10,000</div>
<div class="t" style="left:1244.0px;top:1353.1px;font-size:22.59px;font-weight:400;color:#595959;transform:scaleX(0.9636);font-family:'Liberation Sans', sans-serif;">5,000</div>
<div class="t" style="left:1286.7px;top:1419.5px;font-size:22.59px;font-weight:400;color:#595959;transform:scaleX(0.9455);font-family:'Liberation Sans', sans-serif;">0</div>
<div class="t" style="left:1323.6px;top:1554.9px;font-size:44.29px;color:#595959;transform:rotate(-90deg) scaleX(0.9600);transform-origin:0 0">`16년</div>
<div class="t" style="left:1383.0px;top:1554.9px;font-size:44.29px;color:#595959;transform:rotate(-90deg) scaleX(0.9600);transform-origin:0 0">`17년</div>
<div class="t" style="left:1442.5px;top:1554.9px;font-size:44.29px;color:#595959;transform:rotate(-90deg) scaleX(0.9600);transform-origin:0 0">`18년</div>
<div class="t" style="left:1501.9px;top:1554.9px;font-size:44.29px;color:#595959;transform:rotate(-90deg) scaleX(0.9600);transform-origin:0 0">`19년</div>
<div class="t" style="left:1561.4px;top:1554.9px;font-size:44.29px;color:#595959;transform:rotate(-90deg) scaleX(0.9600);transform-origin:0 0">`20년</div>
<div class="t" style="left:1620.8px;top:1554.9px;font-size:44.29px;color:#595959;transform:rotate(-90deg) scaleX(0.9600);transform-origin:0 0">`21년</div>
<div class="t" style="left:1680.3px;top:1554.9px;font-size:44.29px;color:#595959;transform:rotate(-90deg) scaleX(0.9600);transform-origin:0 0">`22년</div>
<div class="t" style="left:1739.8px;top:1554.9px;font-size:44.29px;color:#595959;transform:rotate(-90deg) scaleX(0.9600);transform-origin:0 0">`23년</div>
<div class="t" style="left:1799.2px;top:1554.9px;font-size:44.29px;color:#595959;transform:rotate(-90deg) scaleX(0.9600);transform-origin:0 0">`24년</div>
<div class="t" style="left:1858.7px;top:1554.9px;font-size:44.29px;color:#595959;transform:rotate(-90deg) scaleX(0.9600);transform-origin:0 0">`25년</div>
<div class="t" style="left:1918.1px;top:1554.9px;font-size:44.29px;color:#595959;transform:rotate(-90deg) scaleX(0.9600);transform-origin:0 0">`26년</div>
<div class="t" style="left:1977.5px;top:1554.9px;font-size:44.29px;color:#595959;transform:rotate(-90deg) scaleX(0.9600);transform-origin:0 0">`27년</div>
<div class="t" style="left:2037.0px;top:1554.9px;font-size:44.29px;color:#595959;transform:rotate(-90deg) scaleX(0.9600);transform-origin:0 0">`28년</div>
<div class="t" style="left:1328.7px;top:1427.1px;font-size:34.29px;color:#ffffff;transform:rotate(-90deg) scaleX(1.0600);transform-origin:0 0">10,618</div>
<div class="t" style="left:1388.2px;top:1304.7px;font-size:34.29px;color:#ffffff;transform:rotate(-90deg) scaleX(1.0600);transform-origin:0 0">19,816</div>
<div class="t" style="left:1447.6px;top:1242.6px;font-size:34.29px;color:#ffffff;transform:rotate(-90deg) scaleX(1.0392);transform-origin:0 0">24,380</div>
<div class="t" style="left:1507.1px;top:1334.3px;font-size:34.29px;color:#ffffff;transform:rotate(-90deg) scaleX(1.0600);transform-origin:0 0">17,609</div>
<div class="t" style="left:1566.5px;top:1328.9px;font-size:34.29px;color:#ffffff;transform:rotate(-90deg) scaleX(1.0600);transform-origin:0 0">17,977</div>
<div class="t" style="left:1626.0px;top:1312.0px;font-size:34.29px;color:#ffffff;transform:rotate(-90deg) scaleX(1.0600);transform-origin:0 0">19,287</div>
<div class="t" style="left:1685.4px;top:993.9px;font-size:34.29px;color:#ffffff;transform:rotate(-90deg) scaleX(1.0392);transform-origin:0 0">43,079</div>
<div class="t" style="left:1744.9px;top:973.9px;font-size:34.29px;color:#ffffff;transform:rotate(-90deg) scaleX(1.0392);transform-origin:0 0">44,567</div>
<div class="t" style="left:1804.3px;top:1172.1px;font-size:34.29px;color:#ffffff;transform:rotate(-90deg) scaleX(1.0392);transform-origin:0 0">29,740</div>
<div class="t" style="left:1863.8px;top:1266.6px;font-size:34.29px;color:#ffffff;transform:rotate(-90deg) scaleX(1.0495);transform-origin:0 0">22,638</div>
<div class="t" style="left:1923.2px;top:1394.0px;font-size:34.29px;color:#ffffff;transform:rotate(-90deg) scaleX(1.0600);transform-origin:0 0">13,106</div>
<div class="t" style="left:1982.7px;top:1405.2px;font-size:34.29px;color:#ffffff;transform:rotate(-90deg) scaleX(1.0600);transform-origin:0 0">12,222</div>
<div class="t" style="left:2044.7px;top:1325.0px;font-size:34.29px;color:#595757;transform:rotate(-90deg) scaleX(1.0241);transform-origin:0 0">7,064</div>
</body></html>
